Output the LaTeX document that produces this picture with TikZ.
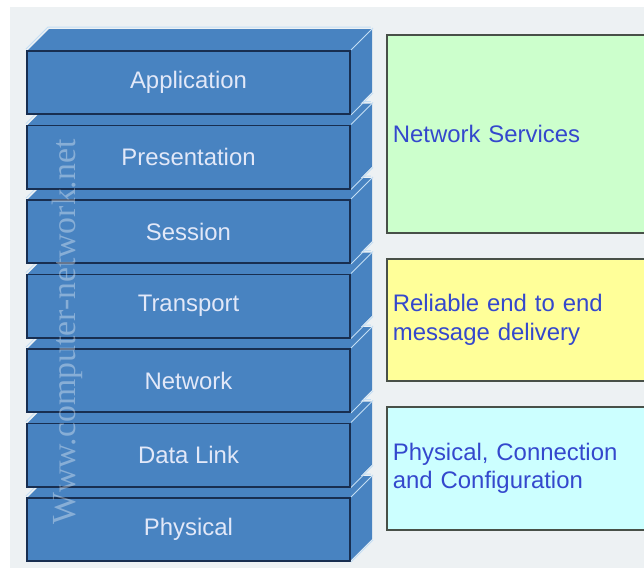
\documentclass[tikz,border=0pt]{standalone}
\usepackage{xcolor}
\usepackage{fontspec}
\setmainfont{Liberation Sans}
\newfontfamily\markfont{Liberation Serif}
\usetikzlibrary{shapes, positioning}

\definecolor{layerblue}{RGB}{72,131,193}
\definecolor{layeredge}{RGB}{24,46,80}
\definecolor{layertext}{RGB}{226,232,248}
\definecolor{faceline}{RGB}{196,222,244}
\definecolor{panelgray}{RGB}{237,241,243}
\definecolor{svcblue}{RGB}{52,72,205}
\definecolor{svcgreen}{RGB}{204,255,204}
\definecolor{svcyellow}{RGB}{255,255,153}
\definecolor{svccyan}{RGB}{204,255,255}
\definecolor{svcedge}{RGB}{72,80,72}

\begin{document}
\begin{tikzpicture}[x=0.025cm, y=-0.025cm,
    layer/.style={draw=layeredge, line width=1.4pt, rectangle, fill=layerblue,
        minimum width=8.075cm, minimum height=1.575cm, text=layertext,
        font=\fontsize{17}{20}\selectfont},
    face/.style={fill=layerblue},
    edgeline/.style={draw=faceline, line width=0.7pt},
    service/.style={draw=svcedge, line width=1.2pt, rectangle, anchor=north west,
        minimum width=8cm, inner xsep=0.15cm, text width=7.7cm, align=left,
        text=svcblue, font=\fontsize{17}{20}\selectfont}]
    \clip (0,0) rectangle (644,575);
    \fill[white] (0,0) rectangle (644,575);
    \fill[panelgray] (10,7) rectangle (650,568);

    % layers, drawn from the bottom up so each one hides the top of the next
    \foreach \i/\name/\txt in {6/phys/Physical, 5/dlink/Data Link, 4/net/Network,
        3/trans/Transport, 2/sess/Session, 1/pres/Presentation, 0/app/Application} {
        \pgfmathsetmacro{\yc}{82.5+74.5*\i}
        \path[face] (27,\yc-31.5) -- ++(22,-22) -- ++(323,0) -- ++(0,63)
            -- ++(-22,22) -- cycle;
        \node[layer] (\name) at (188.5,\yc) {\txt};
        \draw[edgeline] (\name.north west) ++(0,-1) -- ++(22,-22) -- ++(323,0);
        \draw[edgeline] (\name.north east) -- ++(22,-22);
        \draw[edgeline] (\name.south east) -- ++(22,-22);
    }

    \node[rotate=90, text=white, opacity=0.35, font=\markfont\fontsize{24}{24}\selectfont]
        (mark) at (67,332) {Www.computer-network.net};

    % what each group of layers does
    \node[service, fill=svcgreen, minimum height=4.95cm] (services) at (386,34)
        {Network Services};
    \node[service, fill=svcyellow, minimum height=3.05cm] (delivery) at (386,258)
        {Reliable end to end\\message delivery};
    \node[service, fill=svccyan, minimum height=3.075cm] (config) at (386,406)
        {Physical, Connection\\and Configuration};
\end{tikzpicture}
\end{document}
